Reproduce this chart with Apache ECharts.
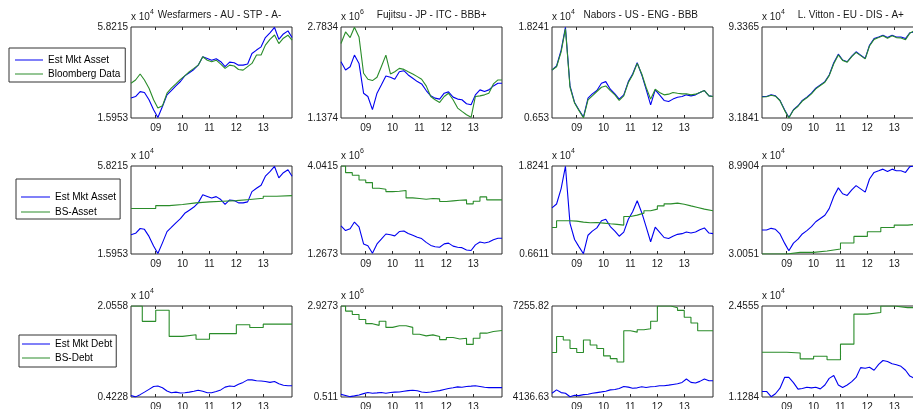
<!DOCTYPE html>
<html><head><meta charset="utf-8">
<script src="https://cdn.jsdelivr.net/npm/echarts@6.0.0/dist/echarts.min.js"></script>
<style>html,body{margin:0;padding:0;background:#fff}#c{width:913px;height:409px}</style>
</head><body><div id="c"></div>
<script>
// ---------- data ----------
const years = [2008.08, 2008.25, 2008.42, 2008.58, 2008.75, 2008.92, 2009.08, 2009.25, 2009.42, 2009.58, 2009.75, 2009.92,
  2010.08, 2010.25, 2010.42, 2010.58, 2010.75, 2010.92, 2011.08, 2011.25, 2011.42, 2011.58, 2011.75, 2011.92,
  2012.08, 2012.25, 2012.42, 2012.58, 2012.75, 2012.92, 2013.08, 2013.25, 2013.42, 2013.58, 2013.75, 2013.92, 2014.07];
const quarterT = [2008.08, 2008.25, 2008.5, 2008.75, 2009.0, 2009.25, 2009.5, 2009.75, 2010.0, 2010.25, 2010.5, 2010.75,
  2011.0, 2011.25, 2011.5, 2011.75, 2012.0, 2012.25, 2012.5, 2012.75, 2013.0, 2013.25, 2013.5, 2013.75, 2014.07];
const halfT = [2008.08, 2008.5, 2009.0, 2009.5, 2010.0, 2010.5, 2011.0, 2011.5, 2012.0, 2012.5, 2013.0, 2013.5, 2014.07];
const xTickYears = [2009, 2010, 2011, 2012, 2013];
const xTickLabels = ['09', '10', '11', '12', '13'];

const companies = ['Wesfarmers - AU - STP - A-', 'Fujitsu - JP - ITC - BBB+', 'Nabors - US - ENG - BBB', 'L. Vitton - EU - DIS - A+'];

// y tick labels [min, max] per row / column
const yTicksRow1 = [['1.5953', '5.8215'], ['1.1374', '2.7834'], ['0.653', '1.8241'], ['3.1841', '9.3365']];
const yTicksRow2 = [['1.5953', '5.8215'], ['1.2673', '4.0415'], ['0.6611', '1.8241'], ['3.0051', '8.9904']];
const yTicksRow3 = [['0.4228', '2.0558'], ['0.511', '2.9273'], ['4136.63', '7255.82'], ['1.1284', '2.4555']];
const exponents = [['4', '6', '4', '4'], ['4', '6', '4', '4'], ['4', '6', '', '4']];

// Wesfarmers (x 10^4)
const wesMktAsset = [2.52, 2.59, 2.82, 2.78, 2.44, 1.98, 1.62, 2.13, 2.67, 2.87, 3.09, 3.29, 3.55, 3.70, 3.85, 4.05, 4.44, 4.36, 4.28, 4.35, 4.21, 3.98, 4.19, 4.16, 4.05, 4.05, 4.10, 4.59, 4.75, 4.90, 5.33, 5.55, 5.80, 5.25, 5.50, 5.64, 5.33];
const wesBloomberg = [3.21, 3.36, 3.64, 3.36, 2.98, 2.44, 2.06, 2.16, 2.75, 2.98, 3.18, 3.39, 3.55, 3.75, 3.90, 4.05, 4.44, 4.28, 4.21, 4.28, 4.10, 3.90, 4.05, 4.01, 3.85, 3.82, 3.98, 4.13, 4.52, 4.52, 4.98, 5.25, 5.45, 5.05, 5.30, 5.44, 5.21];
const wesBsAsset = [3.78, 3.78, 3.92, 3.97, 4.05, 4.10, 4.13, 4.16, 4.21, 4.27, 4.37, 4.40, 4.40];
const wesMktDebt = [0.45, 0.425, 0.465, 0.51, 0.56, 0.61, 0.62, 0.59, 0.53, 0.50, 0.51, 0.495, 0.50, 0.51, 0.525, 0.545, 0.525, 0.50, 0.50, 0.52, 0.55, 0.60, 0.62, 0.61, 0.65, 0.685, 0.73, 0.73, 0.715, 0.71, 0.70, 0.685, 0.70, 0.66, 0.635, 0.625, 0.625];
const wesBsDebt = [2.0558, 1.78, 1.98, 1.51, 1.54, 1.46, 1.56, 1.56, 1.72, 1.67, 1.73, 1.73, 1.73];

// Fujitsu (x 10^6)
const fujMktAsset = [2.155, 2.005, 2.065, 2.275, 2.125, 1.586, 1.527, 1.29, 1.586, 1.736, 1.898, 1.874, 1.838, 1.975, 1.993, 1.916, 1.856, 1.796, 1.754, 1.634, 1.538, 1.497, 1.479, 1.586, 1.610, 1.515, 1.479, 1.467, 1.395, 1.377, 1.556, 1.646, 1.616, 1.646, 1.718, 1.766, 1.766];
const fujBloomberg = [2.484, 2.694, 2.592, 2.78, 2.604, 1.946, 1.838, 1.814, 1.874, 2.065, 2.275, 1.934, 1.975, 2.035, 2.017, 1.975, 1.934, 1.886, 1.838, 1.718, 1.527, 1.467, 1.419, 1.527, 1.586, 1.467, 1.317, 1.257, 1.197, 1.15, 1.527, 1.538, 1.556, 1.586, 1.754, 1.826, 1.826];
const fujBsAsset = [4.0415, 3.832, 3.748, 3.602, 3.518, 3.340, 3.309, 3.235, 3.246, 3.267, 3.036, 3.015, 2.995, 3.015, 3.005, 2.921, 2.942, 2.963, 2.974, 2.848, 2.932, 3.068, 2.974, 2.974, 2.974];
const fujMktDebt = [0.58, 0.55, 0.52, 0.54, 0.565, 0.60, 0.63, 0.61, 0.62, 0.63, 0.61, 0.63, 0.64, 0.645, 0.665, 0.68, 0.69, 0.675, 0.645, 0.63, 0.645, 0.665, 0.68, 0.71, 0.735, 0.755, 0.78, 0.77, 0.79, 0.80, 0.81, 0.79, 0.77, 0.76, 0.76, 0.76, 0.76];
const fujBsDebt = [2.927, 2.792, 2.702, 2.567, 2.458, 2.413, 2.522, 2.359, 2.404, 2.404, 2.359, 2.179, 2.134, 2.161, 2.116, 2.035, 2.089, 2.053, 2.071, 1.908, 2.071, 2.206, 2.251, 2.278, 2.278];

// Nabors (x 10^4, debt in units)
const nabMktAsset = [1.271, 1.322, 1.526, 1.82, 1.066, 0.853, 0.759, 0.665, 0.909, 0.964, 1.006, 1.100, 1.121, 1.024, 0.964, 0.896, 0.951, 1.121, 1.219, 1.364, 1.207, 1.024, 0.823, 1.015, 0.951, 0.879, 0.866, 0.896, 0.921, 0.930, 0.951, 0.938, 0.951, 0.981, 1.006, 0.938, 0.930];
const nabBloomberg = [1.271, 1.313, 1.505, 1.80, 1.049, 0.845, 0.751, 0.656, 0.887, 0.938, 0.994, 1.049, 1.066, 1.006, 0.951, 0.879, 0.938, 1.109, 1.207, 1.356, 1.219, 1.049, 0.896, 1.024, 0.981, 0.951, 0.960, 0.981, 0.972, 0.964, 0.964, 0.951, 0.960, 0.981, 1.006, 0.938, 0.930];
const nabBsAsset = [1.012, 1.100, 1.100, 1.096, 1.082, 1.074, 1.078, 1.069, 1.060, 1.052, 1.043, 1.157, 1.175, 1.201, 1.232, 1.254, 1.297, 1.324, 1.333, 1.319, 1.297, 1.276, 1.254, 1.232, 1.232];
const nabMktDebt = [4265, 4381, 4288, 4265, 4145, 4195, 4183, 4218, 4230, 4265, 4288, 4311, 4334, 4381, 4393, 4428, 4497, 4474, 4439, 4451, 4486, 4462, 4486, 4497, 4521, 4521, 4544, 4567, 4590, 4637, 4753, 4637, 4614, 4672, 4753, 4695, 4695];
const nabBsDebt = [5661, 6208, 6092, 5801, 5661, 6092, 5917, 5801, 5545, 5452, 5335, 6406, 6360, 6441, 6476, 6732, 7255.82, 7255.82, 7198, 7105, 6872, 6674, 6406, 6406, 6406];

// L. Vitton (x 10^4)
const lvMktAsset = [4.638, 4.638, 4.750, 4.683, 4.370, 3.744, 3.22, 3.744, 4.012, 4.370, 4.593, 4.862, 5.198, 5.421, 5.645, 6.093, 6.920, 7.502, 7.100, 6.988, 7.368, 7.659, 7.435, 7.211, 8.106, 8.553, 8.665, 8.777, 8.621, 8.777, 8.665, 8.665, 8.553, 8.950, 8.99, 8.95, 8.90];
const lvBloomberg = [4.60, 4.62, 4.72, 4.66, 4.35, 3.70, 3.19, 3.72, 3.98, 4.33, 4.55, 4.82, 5.15, 5.38, 5.60, 6.05, 6.85, 7.45, 7.08, 6.96, 7.33, 7.62, 7.40, 7.18, 8.05, 8.50, 8.62, 8.75, 8.58, 8.74, 8.62, 8.60, 8.48, 8.92, 9.10, 9.33, 9.20];
const lvBsAsset = [3.0051, 3.0051, 3.118, 3.118, 3.208, 3.344, 3.750, 4.202, 4.518, 4.812, 4.970, 5.060, 5.060];
const lvMktDebt = [1.209, 1.209, 1.133, 1.176, 1.257, 1.414, 1.414, 1.338, 1.243, 1.252, 1.271, 1.262, 1.271, 1.247, 1.304, 1.400, 1.442, 1.304, 1.266, 1.304, 1.352, 1.414, 1.557, 1.547, 1.561, 1.518, 1.604, 1.661, 1.647, 1.614, 1.599, 1.576, 1.518, 1.433, 1.400, 1.376, 1.385];
const lvBsDebt = [1.780, 1.780, 1.771, 1.685, 1.723, 1.671, 1.899, 2.337, 2.360, 2.4555, 2.432, 2.432, 2.432];

// ---------- panel configuration ----------
const yTicks = [yTicksRow1, yTicksRow2, yTicksRow3];
const panels = [
  [['Est Mkt Asset', years, wesMktAsset, false], ['Bloomberg Data', years, wesBloomberg, false]],
  [['Est Mkt Asset', years, fujMktAsset, false], ['Bloomberg Data', years, fujBloomberg, false]],
  [['Est Mkt Asset', years, nabMktAsset, false], ['Bloomberg Data', years, nabBloomberg, false]],
  [['Est Mkt Asset', years, lvMktAsset, false], ['Bloomberg Data', years, lvBloomberg, false]],
  [['Est Mkt Asset', years, wesMktAsset, false], ['BS-Asset', halfT, wesBsAsset, true]],
  [['Est Mkt Asset', years, fujMktAsset, false], ['BS-Asset', quarterT, fujBsAsset, true]],
  [['Est Mkt Asset', years, nabMktAsset, false], ['BS-Asset', quarterT, nabBsAsset, true]],
  [['Est Mkt Asset', years, lvMktAsset, false], ['BS-Asset', halfT, lvBsAsset, true]],
  [['Est Mkt Debt', years, wesMktDebt, false], ['BS-Debt', halfT, wesBsDebt, true]],
  [['Est Mkt Debt', years, fujMktDebt, false], ['BS-Debt', quarterT, fujBsDebt, true]],
  [['Est Mkt Debt', years, nabMktDebt, false], ['BS-Debt', quarterT, nabBsDebt, true]],
  [['Est Mkt Debt', years, lvMktDebt, false], ['BS-Debt', halfT, lvBsDebt, true]]
];

// ---------- layout / style ----------
const FONT = '"Liberation Sans", Arial, Helvetica, sans-serif';
const TXT = '#1a1a1a';
const BLUE = '#0000f0';
const GREEN = '#2a8c2a';
const colLeft = [131, 341, 552, 762];
const gridW = 161;
const rowTop = [27, 166, 306];
const rowH = [91, 88, 91];
const titleX = [219.5, 431.7, 640.8, 850.8];
const X_MIN = 2008.08, X_MAX = 2014.07;

const grid = [], xAxis = [], yAxis = [], series = [];
panels.forEach((p, i) => {
  const r = Math.floor(i / 4), c = i % 4;
  grid.push({ left: colLeft[c], top: rowTop[r], width: gridW, height: rowH[r], show: true,
    borderColor: '#2b2b2b', borderWidth: 1, backgroundColor: '#fff', containLabel: false, outerBoundsMode: 'none' });
  const tickCommon = { show: true, inside: true, length: 3, customValues: xTickYears, lineStyle: { color: '#2b2b2b', width: 1 } };
  xAxis.push({ type: 'value', gridIndex: i, min: X_MIN, max: X_MAX, position: 'bottom',
    axisLine: { show: false }, splitLine: { show: false }, axisTick: tickCommon,
    axisLabel: { show: true, customValues: xTickYears, margin: 5, color: TXT, fontSize: 10, fontFamily: FONT,
      formatter: v => xTickLabels[xTickYears.indexOf(Math.round(v))] || '' } });
  xAxis.push({ type: 'value', gridIndex: i, min: X_MIN, max: X_MAX, position: 'top',
    axisLine: { show: false }, splitLine: { show: false }, axisTick: tickCommon, axisLabel: { show: false } });
  const lab = yTicks[r][c];
  const ymin = parseFloat(lab[0]), ymax = parseFloat(lab[1]);
  const ex = exponents[r][c];
  yAxis.push({ type: 'value', gridIndex: i, min: ymin, max: ymax,
    axisLine: { show: false }, axisTick: { show: false }, splitLine: { show: false },
    axisLabel: { show: true, customValues: [ymin, ymax], margin: 3, color: TXT, fontSize: 10, fontFamily: FONT,
      formatter: v => (Math.abs(v - ymin) < Math.abs(v - ymax) ? lab[0] : lab[1]) },
    name: ex ? '{a|x 10}{b|' + ex + '}' : '', nameLocation: 'end', nameGap: -1,
    nameTextStyle: { align: 'left', color: TXT, fontFamily: FONT,
      rich: { a: { fontSize: 10, lineHeight: 14, verticalAlign: 'bottom', color: TXT, fontFamily: FONT },
              b: { fontSize: 7, lineHeight: 7, verticalAlign: 'top', color: TXT, fontFamily: FONT } } } });
  p.forEach((s, k) => {
    const col = k === 0 ? BLUE : GREEN;
    series.push({ type: 'line', name: s[0], xAxisIndex: 2 * i, yAxisIndex: i,
      data: s[1].map((t, j) => [t, s[2][j]]), step: s[3] ? 'end' : false,
      showSymbol: false, symbol: 'none', clip: true, animation: false,
      itemStyle: { color: col }, lineStyle: { color: col, width: 1.1 }, emphasis: { disabled: true } });
  });
});

const legendCommon = { orient: 'vertical', icon: 'rect', itemHeight: 1, selectedMode: false,
  backgroundColor: '#fff', borderColor: '#333', borderWidth: 1, borderRadius: 0,
  textStyle: { fontSize: 10, fontFamily: FONT, color: '#000', lineHeight: 12 } };
const legend = [
  Object.assign({}, legendCommon, { data: ['Est Mkt Asset', 'Bloomberg Data'], left: 9, top: 48, padding: [6, 5, 2, 6], itemGap: 2, itemWidth: 28 }),
  Object.assign({}, legendCommon, { data: ['Est Mkt Asset', 'BS-Asset'], left: 16, top: 179, padding: [12, 4, 1, 5], itemGap: 3, itemWidth: 29 }),
  Object.assign({}, legendCommon, { data: ['Est Mkt Debt', 'BS-Debt'], left: 19, top: 335, padding: [3, 4, 3, 3], itemGap: 2, itemWidth: 28 })
];

const graphic = companies.map((name, c) => ({ type: 'text', x: titleX[c], y: 15,
  style: { text: name, fontSize: 10, fontFamily: FONT, fill: TXT, align: 'center', verticalAlign: 'middle' } }));

const chart = echarts.init(document.getElementById('c'), null, { renderer: 'canvas' });
chart.setOption({ backgroundColor: '#fff', animation: false, grid, xAxis, yAxis, series, legend, graphic });
</script></body></html>
